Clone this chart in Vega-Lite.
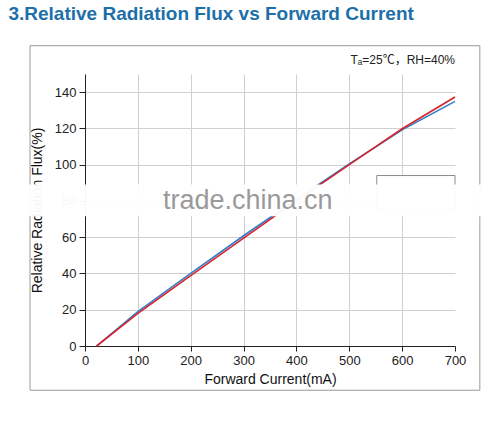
{
  "$schema": "https://vega.github.io/schema/vega-lite/v6.json",
  "width": 370,
  "height": 272,
  "autosize": "none",
  "padding": {"top": 74, "left": 85, "right": 41, "bottom": 75},
  "background": "white",
  "config": {
    "view": {"stroke": null},
    "font": "Liberation Sans",
    "axisX": {
      "grid": true, "gridColor": "#cfcfcf", "labelOverlap": false, "labelFlush": false,
      "domainColor": "#222", "tickColor": "#222", "tickSize": 5, "labelFontSize": 13, "labelColor": "#222", "labelPadding": 3,
      "titleFontSize": 14, "titleFontWeight": "normal", "titleColor": "#111", "titlePadding": 5
    },
    "axisY": {
      "grid": true, "gridColor": "#cfcfcf", "labelOverlap": false, "labelFlush": false,
      "domainColor": "#222", "tickColor": "#222", "tickSize": 6, "labelFontSize": 13, "labelColor": "#222", "labelPadding": 3,
      "titleFontSize": 14, "titleFontWeight": "normal", "titleColor": "#111", "titlePadding": 10
    }
  },
  "title": {
    "text": "3.Relative Radiation Flux vs Forward Current",
    "anchor": "start",
    "offset": 21,
    "dx": 8,
    "font": "Liberation Sans",
    "fontSize": 19,
    "fontWeight": "bold",
    "color": "#1d6fa9"
  },
  "datasets": {
    "curves": [
      {"I": 22, "flux": 0, "series": "blue"},
      {"I": 100, "flux": 19, "series": "blue"},
      {"I": 200, "flux": 40, "series": "blue"},
      {"I": 300, "flux": 60.8, "series": "blue"},
      {"I": 400, "flux": 80.8, "series": "blue"},
      {"I": 500, "flux": 100.4, "series": "blue"},
      {"I": 600, "flux": 119.2, "series": "blue"},
      {"I": 700, "flux": 134.9, "series": "blue"},
      {"I": 22, "flux": 0, "series": "red"},
      {"I": 100, "flux": 18, "series": "red"},
      {"I": 200, "flux": 38.8, "series": "red"},
      {"I": 300, "flux": 59.5, "series": "red"},
      {"I": 400, "flux": 80, "series": "red"},
      {"I": 500, "flux": 100, "series": "red"},
      {"I": 600, "flux": 119.8, "series": "red"},
      {"I": 700, "flux": 137.3, "series": "red"}
    ],
    "frame": [{"I": -104, "I2": 747, "flux": -24.4, "flux2": 165.6}],
    "legendbox": [{"I": 552, "I2": 700, "flux": 75, "flux2": 94}],
    "band": [{"I": -160, "I2": 800, "flux": 71.5, "flux2": 89}],
    "marks": [{"I": 308, "flux": 80, "label": "trade.china.cn"}],
    "note": [{"I": 700, "flux": 155.5, "label": "Tₐ=25℃，RH=40%"}]
  },
  "layer": [
    {
      "data": {"name": "frame"},
      "mark": {"type": "rect", "fill": null, "stroke": "#9a9a9a", "strokeWidth": 1, "clip": false},
      "encoding": {
        "x": {"field": "I", "type": "quantitative", "scale": {"domain": [0, 700], "nice": false, "zero": false},
          "axis": {"title": "Forward Current(mA)", "values": [0, 100, 200, 300, 400, 500, 600, 700], "gridColor": {"condition": {"test": "datum.value === 0 || datum.value === 700", "value": "transparent"}, "value": "#cfcfcf"}}},
        "x2": {"field": "I2"},
        "y": {"field": "flux", "type": "quantitative", "scale": {"domain": [0, 150], "nice": false, "zero": false},
          "axis": {"title": "Relative Radiation Flux(%)", "values": [0, 20, 40, 60, 80, 100, 120, 140], "gridColor": {"condition": {"test": "datum.value === 0", "value": "transparent"}, "value": "#cfcfcf"}}},
        "y2": {"field": "flux2"}
      }
    },
    {
      "data": {"name": "legendbox"},
      "mark": {"type": "rect", "fill": "white", "stroke": "#8a8a8a", "strokeWidth": 1},
      "encoding": {
        "x": {"field": "I", "type": "quantitative",
          "axis": {"title": "Forward Current(mA)", "values": [0, 100, 200, 300, 400, 500, 600, 700], "gridColor": {"condition": {"test": "datum.value === 0 || datum.value === 700", "value": "transparent"}, "value": "#cfcfcf"}}},
        "x2": {"field": "I2"},
        "y": {"field": "flux", "type": "quantitative",
          "axis": {"title": "Relative Radiation Flux(%)", "values": [0, 20, 40, 60, 80, 100, 120, 140], "gridColor": {"condition": {"test": "datum.value === 0", "value": "transparent"}, "value": "#cfcfcf"}}},
        "y2": {"field": "flux2"}
      }
    },
    {
      "data": {"name": "curves"},
      "mark": {"type": "line", "strokeWidth": 1.6},
      "encoding": {
        "x": {"field": "I", "type": "quantitative",
          "axis": {"title": "Forward Current(mA)", "values": [0, 100, 200, 300, 400, 500, 600, 700], "gridColor": {"condition": {"test": "datum.value === 0 || datum.value === 700", "value": "transparent"}, "value": "#cfcfcf"}}},
        "y": {"field": "flux", "type": "quantitative",
          "axis": {"title": "Relative Radiation Flux(%)", "values": [0, 20, 40, 60, 80, 100, 120, 140], "gridColor": {"condition": {"test": "datum.value === 0", "value": "transparent"}, "value": "#cfcfcf"}}},
        "color": {"field": "series", "type": "nominal", "scale": {"domain": ["blue", "red"], "range": ["#2f7fc6", "#d8232f"]}, "legend": null},
        "order": {"field": "I"}
      }
    },
    {
      "data": {"name": "band"},
      "mark": {"type": "rect", "fill": "white", "opacity": 0.96, "clip": false},
      "encoding": {
        "x": {"field": "I", "type": "quantitative",
          "axis": {"title": "Forward Current(mA)", "values": [0, 100, 200, 300, 400, 500, 600, 700], "gridColor": {"condition": {"test": "datum.value === 0 || datum.value === 700", "value": "transparent"}, "value": "#cfcfcf"}}},
        "x2": {"field": "I2"},
        "y": {"field": "flux", "type": "quantitative",
          "axis": {"title": "Relative Radiation Flux(%)", "values": [0, 20, 40, 60, 80, 100, 120, 140], "gridColor": {"condition": {"test": "datum.value === 0", "value": "transparent"}, "value": "#cfcfcf"}}},
        "y2": {"field": "flux2"}
      }
    },
    {
      "data": {"name": "marks"},
      "mark": {"type": "text", "fontSize": 27, "color": "#9a9a9a", "font": "Liberation Sans", "align": "center", "baseline": "middle"},
      "encoding": {
        "x": {"field": "I", "type": "quantitative",
          "axis": {"title": "Forward Current(mA)", "values": [0, 100, 200, 300, 400, 500, 600, 700], "gridColor": {"condition": {"test": "datum.value === 0 || datum.value === 700", "value": "transparent"}, "value": "#cfcfcf"}}},
        "y": {"field": "flux", "type": "quantitative",
          "axis": {"title": "Relative Radiation Flux(%)", "values": [0, 20, 40, 60, 80, 100, 120, 140], "gridColor": {"condition": {"test": "datum.value === 0", "value": "transparent"}, "value": "#cfcfcf"}}},
        "text": {"field": "label"}
      }
    },
    {
      "data": {"name": "note"},
      "mark": {"type": "text", "fontSize": 12, "color": "#222", "font": "Liberation Sans, Noto Sans CJK SC", "align": "right", "baseline": "alphabetic"},
      "encoding": {
        "x": {"field": "I", "type": "quantitative",
          "axis": {"title": "Forward Current(mA)", "values": [0, 100, 200, 300, 400, 500, 600, 700], "gridColor": {"condition": {"test": "datum.value === 0 || datum.value === 700", "value": "transparent"}, "value": "#cfcfcf"}}},
        "y": {"field": "flux", "type": "quantitative",
          "axis": {"title": "Relative Radiation Flux(%)", "values": [0, 20, 40, 60, 80, 100, 120, 140], "gridColor": {"condition": {"test": "datum.value === 0", "value": "transparent"}, "value": "#cfcfcf"}}},
        "text": {"field": "label"}
      }
    }
  ]
}
